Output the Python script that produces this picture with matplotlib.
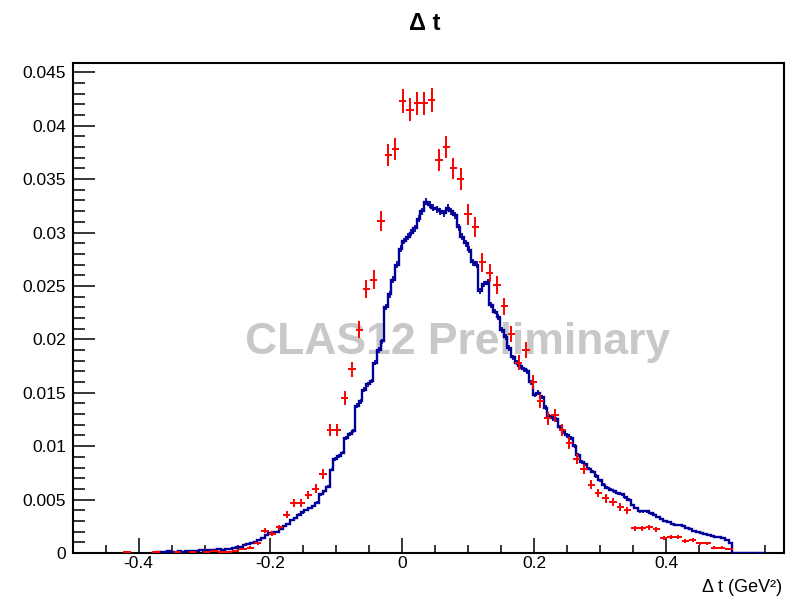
import numpy as np
import matplotlib
matplotlib.use('Agg')
import matplotlib.pyplot as plt
from matplotlib.ticker import MultipleLocator, FormatStrFormatter

plt.rcParams['font.family'] = ['Liberation Sans', 'DejaVu Sans']

# data points (red), 100 bins of 0.011 starting at -0.5
red_edges = np.linspace(-0.5, 0.6, 101)
red_vals = [
    0, 0, 0, 0, 0, 0, 0, 0.0001, 0, 0,
    0, 0.0001, 0, 0, 0.0001, 0, 0.0001, 0, 0.0001, 0.0002,
    0.0001, 0.0001, 0.0002, 0.0004, 0.0005, 0.0009, 0.0021, 0.0018, 0.0024, 0.0036,
    0.0047, 0.0047, 0.0054, 0.0060, 0.0074, 0.0115, 0.0115, 0.0145, 0.0172, 0.0209,
    0.0247, 0.0256, 0.0311, 0.0373, 0.0378, 0.0423, 0.0415, 0.0421, 0.0421, 0.0424,
    0.0368, 0.0380, 0.0360, 0.0350, 0.0317, 0.0305, 0.0272, 0.0262, 0.0251, 0.0231,
    0.0205, 0.0178, 0.0190, 0.0160, 0.0142, 0.0126, 0.0129, 0.0115, 0.0103, 0.0088,
    0.0079, 0.0064, 0.0056, 0.0051, 0.0048, 0.0043, 0.0040, 0.0023, 0.0023, 0.0024,
    0.0022, 0.0014, 0.0015, 0.0015, 0.0011, 0.0012, 0.0009, 0.0009, 0.0005, 0.0005,
    0.0004, 0, 0, 0, 0, 0, 0, 0, 0, 0,
]
red_entries = 35000

# simulation histogram (blue), bins of 0.0055 from -0.374 to 0.55
blue_edges = np.linspace(-0.374, 0.55, 169)
blue_vals = [
    0.0001, 0.0001, 0.0001, 0.0002, 0.0001, 0.0001, 0.0002, 0.0001, 0.0002, 0.0002,
    0.0002, 0.0002, 0.0003, 0.0002, 0.0003, 0.0003, 0.0003, 0.0004, 0.0003, 0.0004,
    0.0004, 0.0005, 0.0006, 0.0006, 0.0007, 0.0008, 0.0009, 0.0010, 0.0012, 0.0014,
    0.0017, 0.0019, 0.0020, 0.0020, 0.0022, 0.0025, 0.0027, 0.0031, 0.0033, 0.0036,
    0.0038, 0.0040, 0.0042, 0.0044, 0.0047, 0.0055, 0.0058, 0.0062, 0.0078, 0.0088,
    0.0091, 0.0094, 0.0108, 0.0111, 0.0114, 0.0138, 0.0142, 0.0153, 0.0158, 0.0161,
    0.0178, 0.0190, 0.0198, 0.0230, 0.0242, 0.0256, 0.0270, 0.0285, 0.0292, 0.0296,
    0.0300, 0.0304, 0.0313, 0.0320, 0.0329, 0.0326, 0.0323, 0.0322, 0.0320, 0.0318,
    0.0323, 0.0320, 0.0316, 0.0305, 0.0296, 0.0290, 0.0284, 0.0272, 0.0270, 0.0245,
    0.0252, 0.0254, 0.0232, 0.0226, 0.0221, 0.0209, 0.0202, 0.0192, 0.0183, 0.0178,
    0.0175, 0.0172, 0.0170, 0.0160, 0.0148, 0.0150, 0.0146, 0.0136, 0.0128, 0.0126,
    0.0125, 0.0118, 0.0113, 0.0110, 0.0108, 0.0100, 0.0092, 0.0085, 0.0083, 0.0079,
    0.0076, 0.0072, 0.0068, 0.0064, 0.0061, 0.0059, 0.0058, 0.0056, 0.0055, 0.0052,
    0.0050, 0.0045, 0.0042, 0.0039, 0.0039, 0.0039, 0.0037, 0.0036, 0.0034, 0.0032,
    0.0030, 0.0029, 0.0027, 0.0026, 0.0026, 0.0025, 0.0023, 0.0022, 0.0021, 0.0020,
    0.0019, 0.0018, 0.0017, 0.0016, 0.0015, 0.0015, 0.0014, 0.0012, 0.0009,
    0, 0, 0, 0, 0, 0, 0, 0, 0,
]
blue_entries = 300000

title = 'Δ t'
xlabel = 'Δ t (GeV²)'
watermark = 'CLAS12 Preliminary'

fig = plt.figure(figsize=(7.86, 5.98), dpi=100)
ax = fig.add_axes([0.0925, 0.0753, 0.905, 0.8199])

ax.text(0.5417, 0.429, watermark, transform=ax.transAxes, ha='center', va='center',
        fontsize=32, fontweight='bold', color='#c8c8c8', zorder=0.5)

# blue histogram with small error ticks
blue = np.array(blue_vals)
blue_c = 0.5 * (blue_edges[:-1] + blue_edges[1:])
ax.stairs(blue, blue_edges, color='#000099', lw=1.7, zorder=3)
m = blue > 0
ax.errorbar(blue_c[m], blue[m], yerr=np.sqrt(blue[m] / blue_entries), fmt='none',
            ecolor='#000099', elinewidth=1.3, capsize=0, zorder=3)

# red data points
red = np.array(red_vals)
red_c = 0.5 * (red_edges[:-1] + red_edges[1:])
half = 0.5 * (red_edges[1] - red_edges[0])
m = red > 0
ax.errorbar(red_c[m], red[m], xerr=half, yerr=np.sqrt(red[m] / red_entries), fmt='none',
            ecolor='red', elinewidth=1.4, capsize=0, zorder=4)

ax.set_xlim(-0.5, 0.579)
ax.set_ylim(0, 0.0459)

ax.xaxis.set_major_locator(MultipleLocator(0.2))
ax.xaxis.set_minor_locator(MultipleLocator(0.05))
ax.yaxis.set_major_locator(MultipleLocator(0.005))
ax.yaxis.set_minor_locator(MultipleLocator(0.001))
ax.xaxis.set_major_formatter(FormatStrFormatter('%g'))
ax.yaxis.set_major_formatter(FormatStrFormatter('%g'))

ax.tick_params(axis='x', which='major', direction='in', length=10.8, width=1.1, pad=2, labelsize=12.5)
ax.tick_params(axis='x', which='minor', direction='in', length=5.8, width=1.1)
ax.tick_params(axis='y', which='major', direction='in', length=15.8, width=1.1, pad=5, labelsize=12.5)
ax.tick_params(axis='y', which='minor', direction='in', length=8.6, width=1.1)

for s in ax.spines.values():
    s.set_linewidth(1.5)
    s.set_zorder(2)

fig.text(425 / 786, 1 - 23 / 598, title, ha='center', va='center', fontsize=17, fontweight='bold')
fig.text(782 / 786, 1 - 587 / 598, xlabel, ha='right', va='center', fontsize=13)

fig.savefig('out.png', dpi=100)
